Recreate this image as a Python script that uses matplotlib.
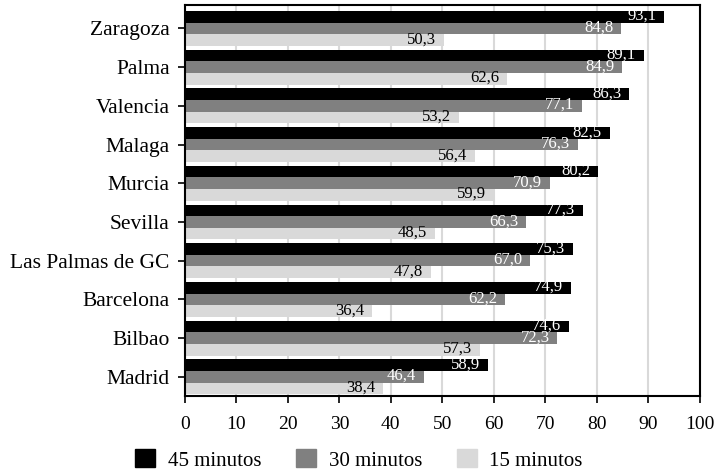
import matplotlib
matplotlib.use("Agg")
import matplotlib.pyplot as plt
import numpy as np

cities = ["Zaragoza", "Palma", "Valencia", "Malaga", "Murcia", "Sevilla",
          "Las Palmas de GC", "Barcelona", "Bilbao", "Madrid"]
min45 = [93.1, 89.1, 86.3, 82.5, 80.2, 77.3, 75.3, 74.9, 74.6, 58.9]
min30 = [84.8, 84.9, 77.1, 76.3, 70.9, 66.3, 67.0, 62.2, 72.3, 46.4]
min15 = [50.3, 62.6, 53.2, 56.4, 59.9, 48.5, 47.8, 36.4, 57.3, 38.4]
series_names = ["45 minutos", "30 minutos", "15 minutos"]
xticks = [0, 10, 20, 30, 40, 50, 60, 70, 80, 90, 100]

plt.rcParams['font.family'] = ['Liberation Serif', 'DejaVu Serif']

fig = plt.figure(figsize=(7.14, 4.75), dpi=100)
ax = fig.add_axes([0.259, 0.166, 0.721, 0.823])

n = len(cities)
pos = np.arange(n)[::-1]  # Zaragoza on top
h = 0.3
colors = ["#000000", "#808080", "#d9d9d9"]
txtcol = ["white", "white", "black"]
data = [min45, min30, min15]
offs = [h, 0, -h]

for vals, c, tc, off, name in zip(data, colors, txtcol, offs, series_names):
    ax.barh(pos + off, vals, height=h, color=c, label=name, zorder=2)
    for y, v in zip(pos + off, vals):
        ax.text(v - 1.5, y + 0.02, f"{v:.1f}".replace(".", ","), ha="right", va="center",
                color=tc, fontsize=12, zorder=3)

ax.set_xlim(0, 100)
ax.set_ylim(-0.5, 9.6)
ax.set_xticks(xticks)
ax.set_xticklabels([str(t) for t in xticks], fontsize=14)
ax.set_yticks(pos)
ax.set_yticklabels(cities, fontsize=15.5)
ax.xaxis.grid(True, color="#d9d9d9", linewidth=1.5, zorder=0)
ax.set_axisbelow(True)
for s in ax.spines.values():
    s.set_color("black")
    s.set_linewidth(1.5)
ax.tick_params(axis="x", direction="out", length=5, width=1.2, pad=9)
ax.tick_params(axis="y", direction="out", length=5, width=1.2, pad=6)

handles = [plt.Rectangle((0, 0), 1, 1, color=c) for c in colors]
fig.legend(handles, series_names, loc="lower center", bbox_to_anchor=(0.503, -0.03),
           ncol=3, frameon=False, fontsize=15, handlelength=0.96, handleheight=0.96,
           columnspacing=1.7, handletextpad=0.58)

fig.savefig("out.png", dpi=100)
